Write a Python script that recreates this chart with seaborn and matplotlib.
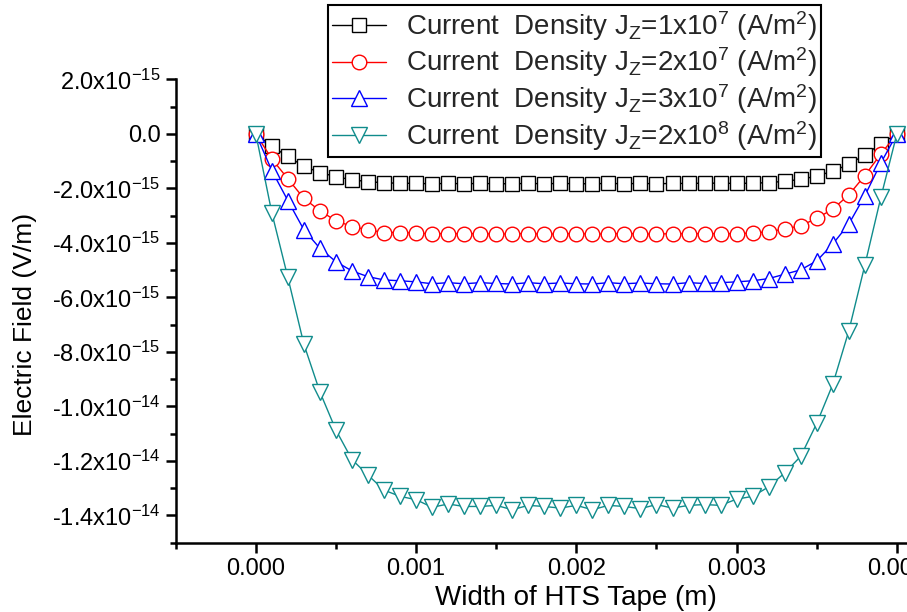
import matplotlib
matplotlib.use("Agg")
import matplotlib.pyplot as plt
import seaborn as sns
import pandas as pd
from matplotlib.ticker import FixedLocator, MultipleLocator

# ---------------- data ----------------
x_m = [0.0000, 0.0001, 0.0002, 0.0003, 0.0004, 0.0005, 0.0006, 0.0007, 0.0008, 0.0009,
       0.0010, 0.0011, 0.0012, 0.0013, 0.0014, 0.0015, 0.0016, 0.0017, 0.0018, 0.0019,
       0.0020, 0.0021, 0.0022, 0.0023, 0.0024, 0.0025, 0.0026, 0.0027, 0.0028, 0.0029,
       0.0030, 0.0031, 0.0032, 0.0033, 0.0034, 0.0035, 0.0036, 0.0037, 0.0038, 0.0039,
       0.0040]

# electric field in units of 1e-15 V/m
e_1e7 = [0.00, -0.46, -0.83, -1.19, -1.42, -1.57, -1.69, -1.75, -1.80, -1.81,
         -1.82, -1.83, -1.82, -1.83, -1.82, -1.83, -1.83, -1.82, -1.83, -1.82,
         -1.83, -1.83, -1.82, -1.83, -1.82, -1.83, -1.82, -1.82, -1.81, -1.81,
         -1.82, -1.81, -1.79, -1.74, -1.67, -1.55, -1.37, -1.12, -0.77, -0.37,
         0.00]
e_2e7 = [0.00, -0.92, -1.65, -2.37, -2.82, -3.19, -3.40, -3.52, -3.62, -3.62,
         -3.64, -3.67, -3.66, -3.67, -3.66, -3.68, -3.67, -3.66, -3.68, -3.67,
         -3.66, -3.68, -3.67, -3.66, -3.67, -3.68, -3.66, -3.67, -3.66, -3.67,
         -3.66, -3.64, -3.59, -3.49, -3.37, -3.10, -2.76, -2.24, -1.53, -0.74,
         0.00]
e_3e7 = [0.00, -1.35, -2.45, -3.52, -4.20, -4.69, -5.03, -5.24, -5.36, -5.39,
         -5.43, -5.50, -5.46, -5.50, -5.46, -5.49, -5.51, -5.46, -5.50, -5.47,
         -5.50, -5.51, -5.46, -5.50, -5.47, -5.50, -5.51, -5.46, -5.49, -5.46,
         -5.43, -5.39, -5.31, -5.15, -4.99, -4.66, -4.04, -3.31, -2.27, -1.07,
         0.00]
e_2e8 = [0.00, -2.90, -5.27, -7.72, -9.47, -10.87, -11.95, -12.52, -13.07, -13.30,
         -13.42, -13.70, -13.58, -13.67, -13.67, -13.63, -13.79, -13.63, -13.67, -13.73,
         -13.63, -13.79, -13.63, -13.67, -13.75, -13.60, -13.73, -13.63, -13.60, -13.63,
         -13.40, -13.30, -12.95, -12.44, -11.83, -10.62, -9.19, -7.23, -4.82, -2.33,
         0.00]

series_labels = [
    r"Current  Density J$_Z$=1x10$^7$ (A/m$^2$)",
    r"Current  Density J$_Z$=2x10$^7$ (A/m$^2$)",
    r"Current  Density J$_Z$=3x10$^7$ (A/m$^2$)",
    r"Current  Density J$_Z$=2x10$^8$ (A/m$^2$)",
]

y_tick_values = [2.0e-15, 0.0, -2.0e-15, -4.0e-15, -6.0e-15, -8.0e-15,
                 -1.0e-14, -1.2e-14, -1.4e-14]
y_tick_labels = [r"2.0x10$^{-15}$", "0.0", r"-2.0x10$^{-15}$", r"-4.0x10$^{-15}$",
                 r"-6.0x10$^{-15}$", r"-8.0x10$^{-15}$", r"-1.0x10$^{-14}$",
                 r"-1.2x10$^{-14}$", r"-1.4x10$^{-14}$"]
x_tick_values = [0.000, 0.001, 0.002, 0.003, 0.004]
x_tick_labels = ["0.000", "0.001", "0.002", "0.003", "0.004"]

# ---------------- style ----------------
sns.set_theme(style="ticks")
plt.rcParams["font.family"] = ["Liberation Sans", "DejaVu Sans"]
plt.rcParams["mathtext.fontset"] = "custom"
plt.rcParams["mathtext.rm"] = "Liberation Sans"
plt.rcParams["mathtext.it"] = "Liberation Sans:italic"
plt.rcParams["mathtext.bf"] = "Liberation Sans:bold"
plt.rcParams["mathtext.default"] = "regular"

fig = plt.figure(figsize=(9.07, 6.12), dpi=100)
fig.patch.set_facecolor("white")
ax = fig.add_axes([0.1937, 0.1132, 0.8835, 0.7572])
ax.set_facecolor("white")

series = [e_1e7, e_2e7, e_3e7, e_2e8]
colors = ["#000000", "#FF0000", "#0000FF", "#108C8C"]
markers = ["s", "o", "^", "v"]
msizes = [9.5, 10.5, 11, 11]

for vals, lab, col, mk, ms in zip(series, series_labels, colors, markers, msizes):
    df = pd.DataFrame({"x": x_m, "y": [v * 1e-15 for v in vals]})
    sns.lineplot(data=df, x="x", y="y", ax=ax, color=col, label=lab,
                 marker=mk, markersize=ms, markerfacecolor="white",
                 markeredgecolor=col, markeredgewidth=1.0, linewidth=1.0,
                 sort=False, errorbar=None)

ax.set_xlim(-0.0005, 0.0045)
ax.set_ylim(-1.5e-14, 2.0e-15)

ax.xaxis.set_major_locator(FixedLocator(x_tick_values))
ax.set_xticklabels(x_tick_labels)
ax.xaxis.set_minor_locator(MultipleLocator(0.0005))
ax.yaxis.set_major_locator(FixedLocator(y_tick_values))
ax.set_yticklabels(y_tick_labels)
ax.yaxis.set_minor_locator(MultipleLocator(1e-15))

for side in ["top", "right"]:
    ax.spines[side].set_visible(False)
for side in ["left", "bottom"]:
    ax.spines[side].set_linewidth(1.8)
    ax.spines[side].set_color("black")

ax.tick_params(axis="both", which="major", direction="out", length=7, width=1.8,
               labelsize=17, colors="black", pad=4)
ax.tick_params(axis="both", which="minor", direction="out", length=4, width=1.8,
               colors="black")
ax.grid(False)

ax.set_xlabel("Width of HTS Tape (m)", fontsize=20, color="black")
ax.set_ylabel("Electric Field (V/m)", fontsize=19, color="black")
ax.xaxis.set_label_coords(0.5, -0.119)
ax.xaxis.label.set_va("center")
ax.yaxis.set_label_coords(-0.188, 0.47)
ax.yaxis.label.set_va("center")

leg = ax.legend(loc="upper left", bbox_to_anchor=(0.3616, 0.992),
                bbox_transform=fig.transFigure, fontsize=20, frameon=True,
                fancybox=False, shadow=False, handlelength=1.95,
                handletextpad=0.7, labelspacing=0.1, borderpad=0.15,
                borderaxespad=0.0)
leg.get_frame().set_edgecolor("black")
leg.get_frame().set_linewidth(1.5)
leg.get_frame().set_facecolor("white")
leg.get_frame().set_alpha(1.0)

fig.savefig("out.png", dpi=100, facecolor="white")
